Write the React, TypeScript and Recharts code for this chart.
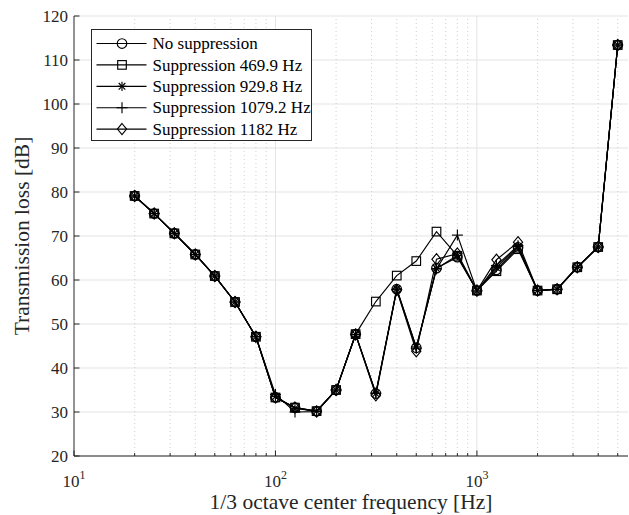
import React from 'react';
import { LineChart, Line, XAxis, YAxis, CartesianGrid, ReferenceLine } from 'recharts';

// 1/3 octave band centres [Hz]
const freqs = [20, 25, 31.5, 40, 50, 63, 80, 100, 125, 160, 200, 250, 315, 400, 500, 630, 800, 1000, 1250, 1600, 2000, 2500, 3150, 4000, 5000];

const noSuppression = [79.1, 75.1, 70.6, 65.8, 60.9, 55.0, 47.1, 33.3, 31.0, 30.2, 35.0, 47.7, 34.2, 57.9, 44.6, 62.7, 65.2, 57.6, 62.3, 67.4, 57.6, 57.9, 62.9, 67.5, 113.4];
const sup4699 = [79.1, 75.1, 70.6, 65.8, 60.9, 55.0, 47.1, 33.3, 31.0, 30.2, 35.0, 47.7, 55.1, 61.0, 64.3, 71.0, 65.5, 57.6, 62.0, 67.0, 57.6, 57.9, 62.9, 67.5, 113.4];
const sup9298 = [79.1, 75.1, 70.6, 65.8, 60.9, 55.0, 47.1, 33.5, 30.8, 30.2, 35.0, 47.6, 34.2, 58.0, 44.8, 62.6, 65.6, 57.5, 62.8, 67.6, 57.6, 57.9, 62.9, 67.5, 113.4];
const sup10792 = [79.1, 75.1, 70.6, 65.8, 60.9, 55.0, 47.1, 34.0, 30.0, 30.1, 35.0, 47.6, 34.3, 57.8, 44.5, 62.5, 70.2, 57.5, 63.3, 67.8, 57.6, 57.9, 62.9, 67.5, 113.4];
const sup1182 = [79.1, 75.1, 70.6, 65.8, 60.9, 55.0, 47.1, 33.3, 31.0, 30.1, 35.0, 47.6, 33.8, 57.7, 43.8, 64.7, 66.0, 57.6, 64.6, 68.6, 57.6, 57.9, 62.9, 67.5, 113.4];

const seriesNames = ['No suppression', 'Suppression 469.9 Hz', 'Suppression 929.8 Hz', 'Suppression 1079.2 Hz', 'Suppression 1182 Hz'];
const seriesValues = [noSuppression, sup4699, sup9298, sup10792, sup1182];
const markerShapes = ['circle', 'square', 'asterisk', 'plus', 'diamond'];

const xTicks = [10, 20, 30, 40, 50, 60, 70, 80, 90, 100, 200, 300, 400, 500, 600, 700, 800, 900, 1000, 2000, 3000, 4000, 5000];
const majorX = [10, 100, 1000];
const yTicks = [20, 30, 40, 50, 60, 70, 80, 90, 100, 110, 120];

const data = freqs.map((f, i) => {
    const row: Record<string, number> = { f };
    seriesValues.forEach((vals, k) => { row[`s${k}`] = vals[i]; });
    return row;
});

const INK = '#262626';
const FONT = '"Liberation Serif", "Times New Roman", serif';
const LW = 1.15;

const Marker = ({ shape, cx, cy }: { shape: string; cx: number; cy: number }) => {
    const st = { fill: 'none', stroke: '#000', strokeWidth: LW };
    if (shape === 'circle') return <circle cx={cx} cy={cy} r={4.8} {...st} />;
    if (shape === 'square') return <rect x={cx - 4.3} y={cy - 4.3} width={8.6} height={8.6} {...st} />;
    if (shape === 'diamond')
        return <polygon points={`${cx},${cy - 5.6} ${cx + 4.6},${cy} ${cx},${cy + 5.6} ${cx - 4.6},${cy}`} {...st} />;
    if (shape === 'plus')
        return (
            <g {...st}>
                <line x1={cx - 5.5} y1={cy} x2={cx + 5.5} y2={cy} />
                <line x1={cx} y1={cy - 5.5} x2={cx} y2={cy + 5.5} />
            </g>
        );
    // asterisk
    return (
        <g {...st}>
            <line x1={cx - 4.6} y1={cy} x2={cx + 4.6} y2={cy} />
            <line x1={cx} y1={cy - 4.6} x2={cx} y2={cy + 4.6} />
            <line x1={cx - 3.3} y1={cy - 3.3} x2={cx + 3.3} y2={cy + 3.3} />
            <line x1={cx - 3.3} y1={cy + 3.3} x2={cx + 3.3} y2={cy - 3.3} />
        </g>
    );
};

const makeDot = (shape: string, k: number) => (p: any) => {
    if (p.cx == null || p.cy == null) return <g key={`d-${k}-${p.index}`} />;
    return (
        <g key={`d-${k}-${p.index}`}>
            <Marker shape={shape} cx={p.cx} cy={p.cy} />
        </g>
    );
};

const BottomTick = (props: any) => {
    const { x, y, payload } = props;
    const v = payload.value;
    const major = majorX.includes(v);
    const len = major ? 5.5 : 3;
    const exp = Math.round(Math.log10(v));
    return (
        <g>
            <line x1={x} y1={y} x2={x} y2={y - len} stroke={INK} strokeWidth={1} />
            {major && (
                <text x={x} y={y + 31} textAnchor="middle" fill={INK} fontFamily={FONT} fontSize={17}>
                    10
                    <tspan dy={-8} fontSize={12}>{exp}</tspan>
                </text>
            )}
        </g>
    );
};

const TopTick = (props: any) => {
    const { x, y, payload } = props;
    const len = majorX.includes(payload.value) ? 5.5 : 3;
    return <line x1={x} y1={y} x2={x} y2={y + len} stroke={INK} strokeWidth={1} />;
};

const LeftTick = (props: any) => {
    const { x, y, payload } = props;
    return (
        <g>
            <line x1={x} y1={y} x2={x + 5.5} y2={y} stroke={INK} strokeWidth={1} />
            <text x={x - 6} y={y} dy="0.35em" textAnchor="end" fill={INK} fontFamily={FONT} fontSize={17}>
                {payload.value}
            </text>
        </g>
    );
};

const RightTick = (props: any) => {
    const { x, y } = props;
    return <line x1={x} y1={y} x2={x - 5.5} y2={y} stroke={INK} strokeWidth={1} />;
};

const LegendBox = () => (
    <svg
        width={221}
        height={112}
        style={{ position: 'absolute', left: 91, top: 29, overflow: 'visible' }}
    >
        <rect x={0.5} y={0.5} width={220} height={111} fill="#fff" stroke={INK} strokeWidth={1} />
        {seriesNames.map((name, k) => {
            const cy = 14.5 + k * 21.4;
            return (
                <g key={name}>
                    <line x1={5.5} y1={cy} x2={55.5} y2={cy} stroke="#000" strokeWidth={LW} />
                    <Marker shape={markerShapes[k]} cx={31} cy={cy} />
                    <text x={61.5} y={cy} dy="0.33em" fill="#000" fontFamily={FONT} fontSize={17}>
                        {name}
                    </text>
                </g>
            );
        })}
    </svg>
);

export default function App() {
    return (
        <div style={{ position: 'absolute', left: 0, top: 0, width: 629, height: 515, background: '#fff' }}>
            <LineChart width={629} height={515} data={data} margin={{ top: 16, right: 1, bottom: 0, left: 0 }}>
                <CartesianGrid vertical={false} stroke="#e3e3e3" strokeWidth={1} />
                {xTicks
                    .filter((t) => t !== 10)
                    .map((t) =>
                        majorX.includes(t) ? (
                            <ReferenceLine key={`g${t}`} x={t} stroke="#e3e3e3" strokeWidth={1} />
                        ) : (
                            <ReferenceLine key={`g${t}`} x={t} stroke="#cfcfcf" strokeWidth={1} strokeDasharray="1 3" />
                        )
                    )}
                <XAxis
                    dataKey="f"
                    type="number"
                    scale="log"
                    domain={[10, 5623]}
                    allowDataOverflow
                    ticks={xTicks}
                    interval={0}
                    height={59}
                    tickSize={0}
                    tickMargin={0}
                    tick={<BottomTick />}
                    tickLine={false}
                    axisLine={{ stroke: INK, strokeWidth: 1 }}
                    label={{
                        content: () => (
                            <text x={351} y={509} textAnchor="middle" fill={INK} fontFamily={FONT} fontSize={21.5}>
                                1/3 octave center frequency [Hz]
                            </text>
                        ),
                    }}
                />
                <XAxis
                    xAxisId="top"
                    orientation="top"
                    dataKey="f"
                    type="number"
                    scale="log"
                    domain={[10, 5623]}
                    allowDataOverflow
                    ticks={xTicks}
                    interval={0}
                    height={0}
                    tickSize={0}
                    tickMargin={0}
                    tick={<TopTick />}
                    tickLine={false}
                    axisLine={{ stroke: INK, strokeWidth: 1 }}
                />
                <YAxis
                    type="number"
                    domain={[20, 120]}
                    ticks={yTicks}
                    interval={0}
                    width={74}
                    tickSize={0}
                    tickMargin={0}
                    tick={<LeftTick />}
                    tickLine={false}
                    axisLine={{ stroke: INK, strokeWidth: 1 }}
                    label={{
                        content: () => (
                            <text
                                x={29}
                                y={236}
                                transform="rotate(-90 29 236)"
                                textAnchor="middle"
                                fill={INK}
                                fontFamily={FONT}
                                fontSize={21.5}
                            >
                                Transmission loss [dB]
                            </text>
                        ),
                    }}
                />
                <YAxis
                    yAxisId="right"
                    orientation="right"
                    type="number"
                    domain={[20, 120]}
                    ticks={yTicks}
                    interval={0}
                    width={0}
                    tickSize={0}
                    tickMargin={0}
                    tick={<RightTick />}
                    tickLine={false}
                    axisLine={{ stroke: INK, strokeWidth: 1 }}
                />
                {seriesNames.map((name, k) => (
                    <Line
                        key={name}
                        name={name}
                        type="linear"
                        dataKey={`s${k}`}
                        stroke="#000"
                        strokeWidth={LW}
                        dot={makeDot(markerShapes[k], k)}
                        activeDot={false}
                        isAnimationActive={false}
                    />
                ))}
            </LineChart>
            <LegendBox />
        </div>
    );
}
